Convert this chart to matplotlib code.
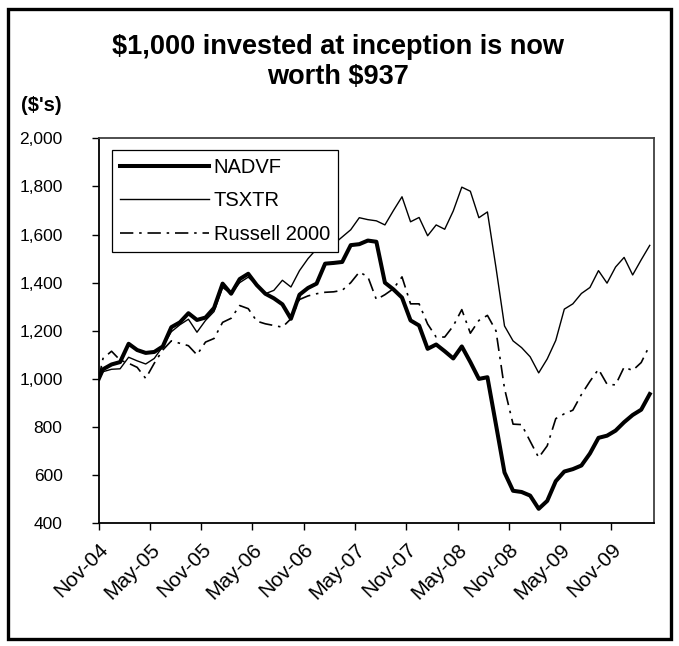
import matplotlib

matplotlib.use("Agg")
import matplotlib.pyplot as plt
import numpy as np
from matplotlib.patches import Rectangle
from matplotlib.ticker import FuncFormatter

# Growth of $1,000 since inception (Nov-04).
# first value = inception, then one value per month (plotted mid-month)
nadvf = [1000, 1040, 1060, 1070, 1146, 1120, 1108, 1112, 1135, 1215, 1235, 1273, 1245,
         1255, 1295, 1396, 1354, 1415, 1437, 1390, 1354, 1335, 1310, 1250, 1350, 1378,
         1396, 1479, 1482, 1486, 1556, 1560, 1575, 1570, 1400, 1372, 1338, 1243, 1222,
         1125, 1143, 1115, 1085, 1135, 1070, 1000, 1007, 810, 611, 535, 530, 515, 460,
         493, 575, 615, 625, 640, 690, 755, 764, 785, 820, 850, 872, 937]
tsxtr = [1000, 1030, 1040, 1042, 1090, 1075, 1062, 1085, 1135, 1196, 1225, 1248, 1194,
         1243, 1280, 1380, 1354, 1400, 1423, 1390, 1354, 1368, 1410, 1382, 1450, 1500,
         1540, 1570, 1560, 1590, 1620, 1670, 1662, 1657, 1640, 1700, 1757, 1653, 1671,
         1595, 1640, 1622, 1698, 1797, 1780, 1670, 1694, 1463, 1220, 1158, 1130, 1092,
         1025, 1083, 1160, 1290, 1312, 1355, 1380, 1450, 1398, 1465, 1505, 1432, 1495, 1555]
russell = [1000, 1085, 1115, 1078, 1065, 1048, 1002, 1065, 1120, 1158, 1148, 1138, 1100,
           1153, 1168, 1235, 1252, 1305, 1292, 1240, 1229, 1222, 1215, 1250, 1330, 1345,
           1354, 1360, 1362, 1368, 1400, 1444, 1425, 1330, 1350, 1375, 1424, 1312, 1312,
           1228, 1174, 1174, 1220, 1288, 1190, 1243, 1264, 1200, 960, 812, 810, 741, 673,
           722, 835, 855, 870, 935, 990, 1040, 978, 975, 1049, 1035, 1068, 1140]

tick_labels = ["Nov-04", "May-05", "Nov-05", "May-06", "Nov-06", "May-07",
               "Nov-07", "May-08", "Nov-08", "May-09", "Nov-09"]
series_names = ["NADVF", "TSXTR", "Russell 2000"]


def main() -> None:
    plt.rcParams["font.family"] = ["Liberation Sans", "DejaVu Sans"]

    # month position of each value: inception at 0, then mid-month points
    x = np.r_[0.0, np.arange(len(nadvf) - 1) + 0.5]

    fig = plt.figure(figsize=(6.79, 6.46), dpi=100)
    ax = fig.add_axes([0.1454, 0.19, 0.8178, 0.5959])

    ax.plot(x, nadvf, color="black", linewidth=2.9, solid_joinstyle="round",
            label=series_names[0])
    ax.plot(x, tsxtr, color="black", linewidth=1.0, label=series_names[1])
    ax.plot(x, russell, color="black", linewidth=1.2, dashes=(8, 3.5, 1.5, 3.5),
            label=series_names[2])

    ax.set_xlim(0, 65)
    ax.set_ylim(400, 2000)
    ax.set_yticks(np.arange(400, 2001, 200))
    ax.yaxis.set_major_formatter(FuncFormatter(lambda v, _: f"{int(v):,}"))
    ax.set_xticks(np.arange(len(tick_labels)) * 6)
    ax.set_xticklabels(tick_labels, rotation=45, ha="right", rotation_mode="anchor")
    ax.tick_params(axis="both", direction="out", length=5, width=1, colors="black")
    ax.tick_params(axis="y", pad=21, labelsize=12.5)
    ax.tick_params(axis="x", pad=7, labelsize=15)

    for side in ("left", "bottom"):
        ax.spines[side].set_linewidth(1.3)
        ax.spines[side].set_color("black")
    for side in ("top", "right"):
        ax.spines[side].set_linewidth(1.3)
        ax.spines[side].set_color("#404040")

    leg = ax.legend(loc="upper left", bbox_to_anchor=(0.024, 0.97), borderaxespad=0,
                    fontsize=14.5, handlelength=4.4, labelspacing=0.72, fancybox=False,
                    framealpha=1, edgecolor="black", borderpad=0.4, handletextpad=0.25)
    leg.get_frame().set_linewidth(0.9)

    fig.text(0.498, 0.927, "$1,000 invested at inception is now", ha="center",
             va="center", fontsize=19.5, fontweight="bold")
    fig.text(0.498, 0.881, "worth $937", ha="center", va="center", fontsize=19.5,
             fontweight="bold")
    fig.text(0.031, 0.836, "($'s)", ha="left", va="center", fontsize=14.5,
             fontweight="bold")

    # outer frame around the whole chart
    fig.patches.append(Rectangle((0.0118, 0.0108), 0.9764, 0.975, transform=fig.transFigure,
                                 fill=False, edgecolor="black", linewidth=2.4))

    fig.savefig("out.png", dpi=100)
    plt.close(fig)


if __name__ == "__main__":
    main()
